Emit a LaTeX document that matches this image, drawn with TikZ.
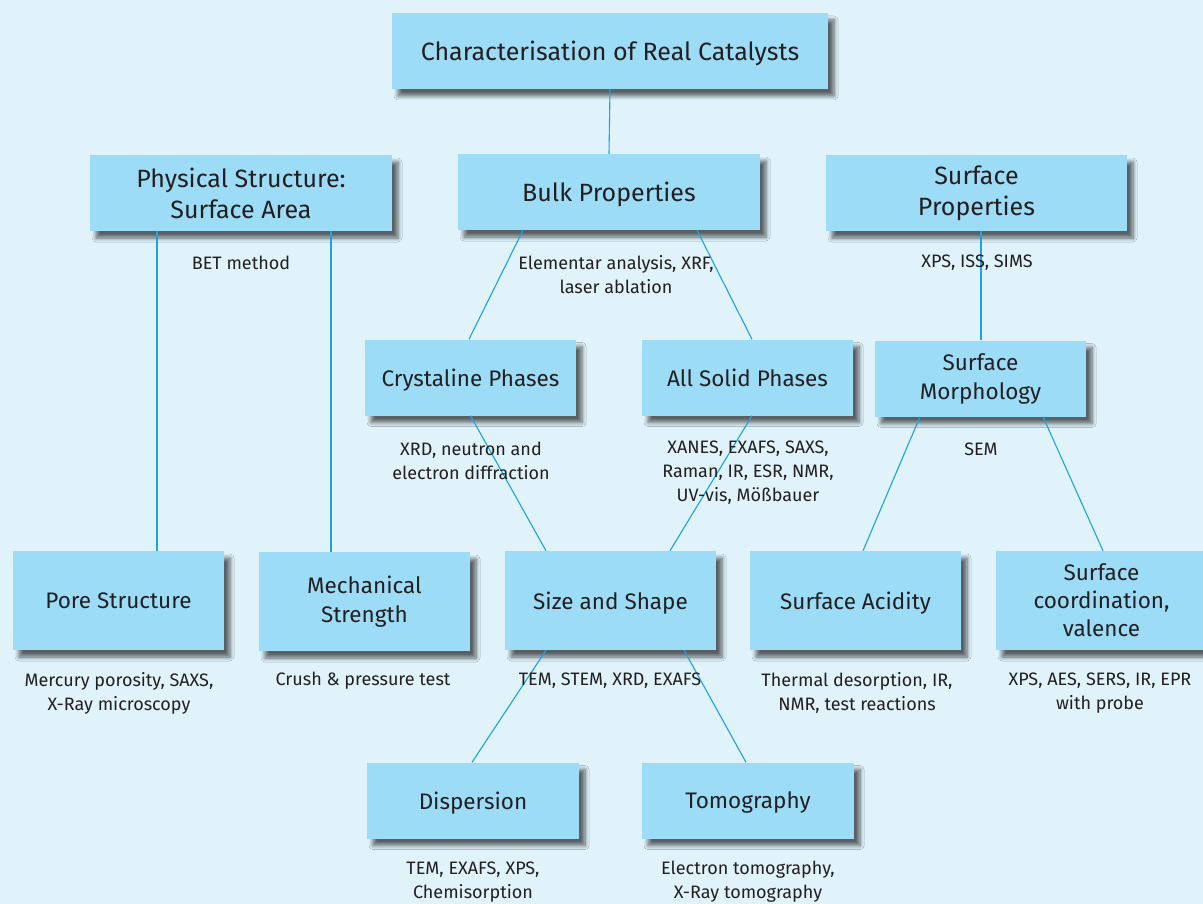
\documentclass[tikz,border=0pt]{standalone}
\usepackage{fontspec}
\setmainfont{Fira Sans}
\usetikzlibrary{calc,shadows.blur}
\definecolor{bgc}{HTML}{E0F2FA}
\definecolor{boxc}{HTML}{9DDCF6}
\definecolor{linec}{HTML}{1AA5E0}
\definecolor{txtc}{HTML}{231F20}
\tikzset{
  box/.style={fill=boxc, draw=none, inner sep=0pt, align=center, text=txtc,
    font=\fontsize{22.5}{29}\selectfont,
    blur shadow={shadow xshift=6pt, shadow yshift=-7pt, shadow blur radius=4pt, shadow opacity=60, shadow blur steps=6}},
  oneline/.style={text depth=0pt},
  lvltwo/.style={minimum width=302pt, minimum height=76pt, font=\fontsize{25}{31}\selectfont},
  wide/.style={minimum width=211pt, minimum height=76pt},
  tall/.style={minimum width=211pt, minimum height=99pt},
  lbl/.style={align=center, text=txtc, font=\fontsize{18}{24}\selectfont, inner sep=0pt},
  conn/.style={draw=linec, line width=1.1pt},
}
\begin{document}
\begin{tikzpicture}[x=1pt,y=-1pt]
\useasboundingbox (0,0) rectangle (1203,904);
\fill[bgc] (0,0) rectangle (1203,904);
% nodes
\node[box, oneline, minimum width=436pt, minimum height=76pt, font=\fontsize{25}{30}\selectfont] (top) at (610,51) {Characterisation of Real Catalysts};
\node[box, lvltwo] (phys) at (241,193) {Physical Structure:\\Surface Area};
\node[box, lvltwo, oneline] (bulk) at (609,192) {Bulk Properties};
\node[box, lvltwo, minimum width=301pt] (surf) at (976.5,193) {Surface\\Properties};
\node[box, wide, oneline] (cryst) at (470.5,377.5) {Crystaline Phases};
\node[box, wide, oneline] (solid) at (747.5,377.5) {All Solid Phases};
\node[box, wide] (morph) at (980.5,378.5) {Surface\\Morphology};
\node[box, tall, oneline] (pore) at (118.5,600.5) {Pore Structure};
\node[box, tall] (mech) at (364.5,601.5) {Mechanical\\Strength};
\node[box, tall, oneline] (size) at (610.5,600.5) {Size and Shape};
\node[box, tall, oneline] (acid) at (855.5,600.5) {Surface Acidity};
\node[box, tall, font=\fontsize{22.5}{28}\selectfont] (coord) at (1101.5,600.5) {Surface\\coordination,\\valence};
\node[box, wide, oneline, minimum width=212pt] (disp) at (473,800.5) {Dispersion};
\node[box, wide, oneline, minimum width=212pt] (tomo) at (748,800.5) {Tomography};
% connectors
\draw[conn] (top.south) -- (bulk.north);
\draw[conn] ($(phys.south)+(-84,0)$) -- ($(pore.north)+(38.5,0)$);
\draw[conn] ($(phys.south)+(90,0)$) -- ($(mech.north)+(-33.5,0)$);
\draw[conn] ($(bulk.south)+(-86,0)$) -- ($(cryst.north)+(-1.5,0)$);
\draw[conn] ($(bulk.south)+(88,0)$) -- ($(solid.north)+(4.5,0)$);
\draw[conn] ($(surf.south)+(4.5,0)$) -- ($(morph.north)+(0.5,0)$);
\draw[conn] (cryst.south) -- ($(size.north)+(-64.5,0)$);
\draw[conn] ($(solid.south)+(4.5,0)$) -- ($(size.north)+(59.5,0)$);
\draw[conn] ($(morph.south)+(-60.5,0)$) -- ($(acid.north)+(7.5,0)$);
\draw[conn] ($(morph.south)+(62.5,0)$) -- ($(coord.north)+(1.5,0)$);
\draw[conn] ($(size.south)+(-64.5,0)$) -- ($(disp.north)+(-1,0)$);
\draw[conn] ($(size.south)+(73.5,0)$) -- ($(tomo.north)+(-2,0)$);
% labels
\node[lbl] (l1) at (241,263) {BET method};
\node[lbl] (l2) at (616,275) {Elementar analysis, XRF,\\laser ablation};
\node[lbl] (l3) at (977,263) {XPS, ISS, SIMS};
\node[lbl] (l4) at (471,461) {XRD, neutron and\\electron diffraction};
\node[lbl] (l5) at (748,473) {XANES, EXAFS, SAXS,\\Raman, IR, ESR, NMR,\\UV-vis, Mößbauer};
\node[lbl] (l6) at (981,449) {SEM};
\node[lbl] (l7) at (119,693) {Mercury porosity, SAXS,\\X-Ray microscopy};
\node[lbl] (l8) at (363,681) {Crush \& pressure test};
\node[lbl] (l9) at (610,681) {TEM, STEM, XRD, EXAFS};
\node[lbl] (l10) at (857,693) {Thermal desorption, IR,\\NMR, test reactions};
\node[lbl] (l11) at (1100,693) {XPS, AES, SERS, IR, EPR\\with probe};
\node[lbl] (l12) at (473,882) {TEM, EXAFS, XPS,\\Chemisorption};
\node[lbl] (l13) at (748,882) {Electron tomography,\\X-Ray tomography};
\end{tikzpicture}
\end{document}
